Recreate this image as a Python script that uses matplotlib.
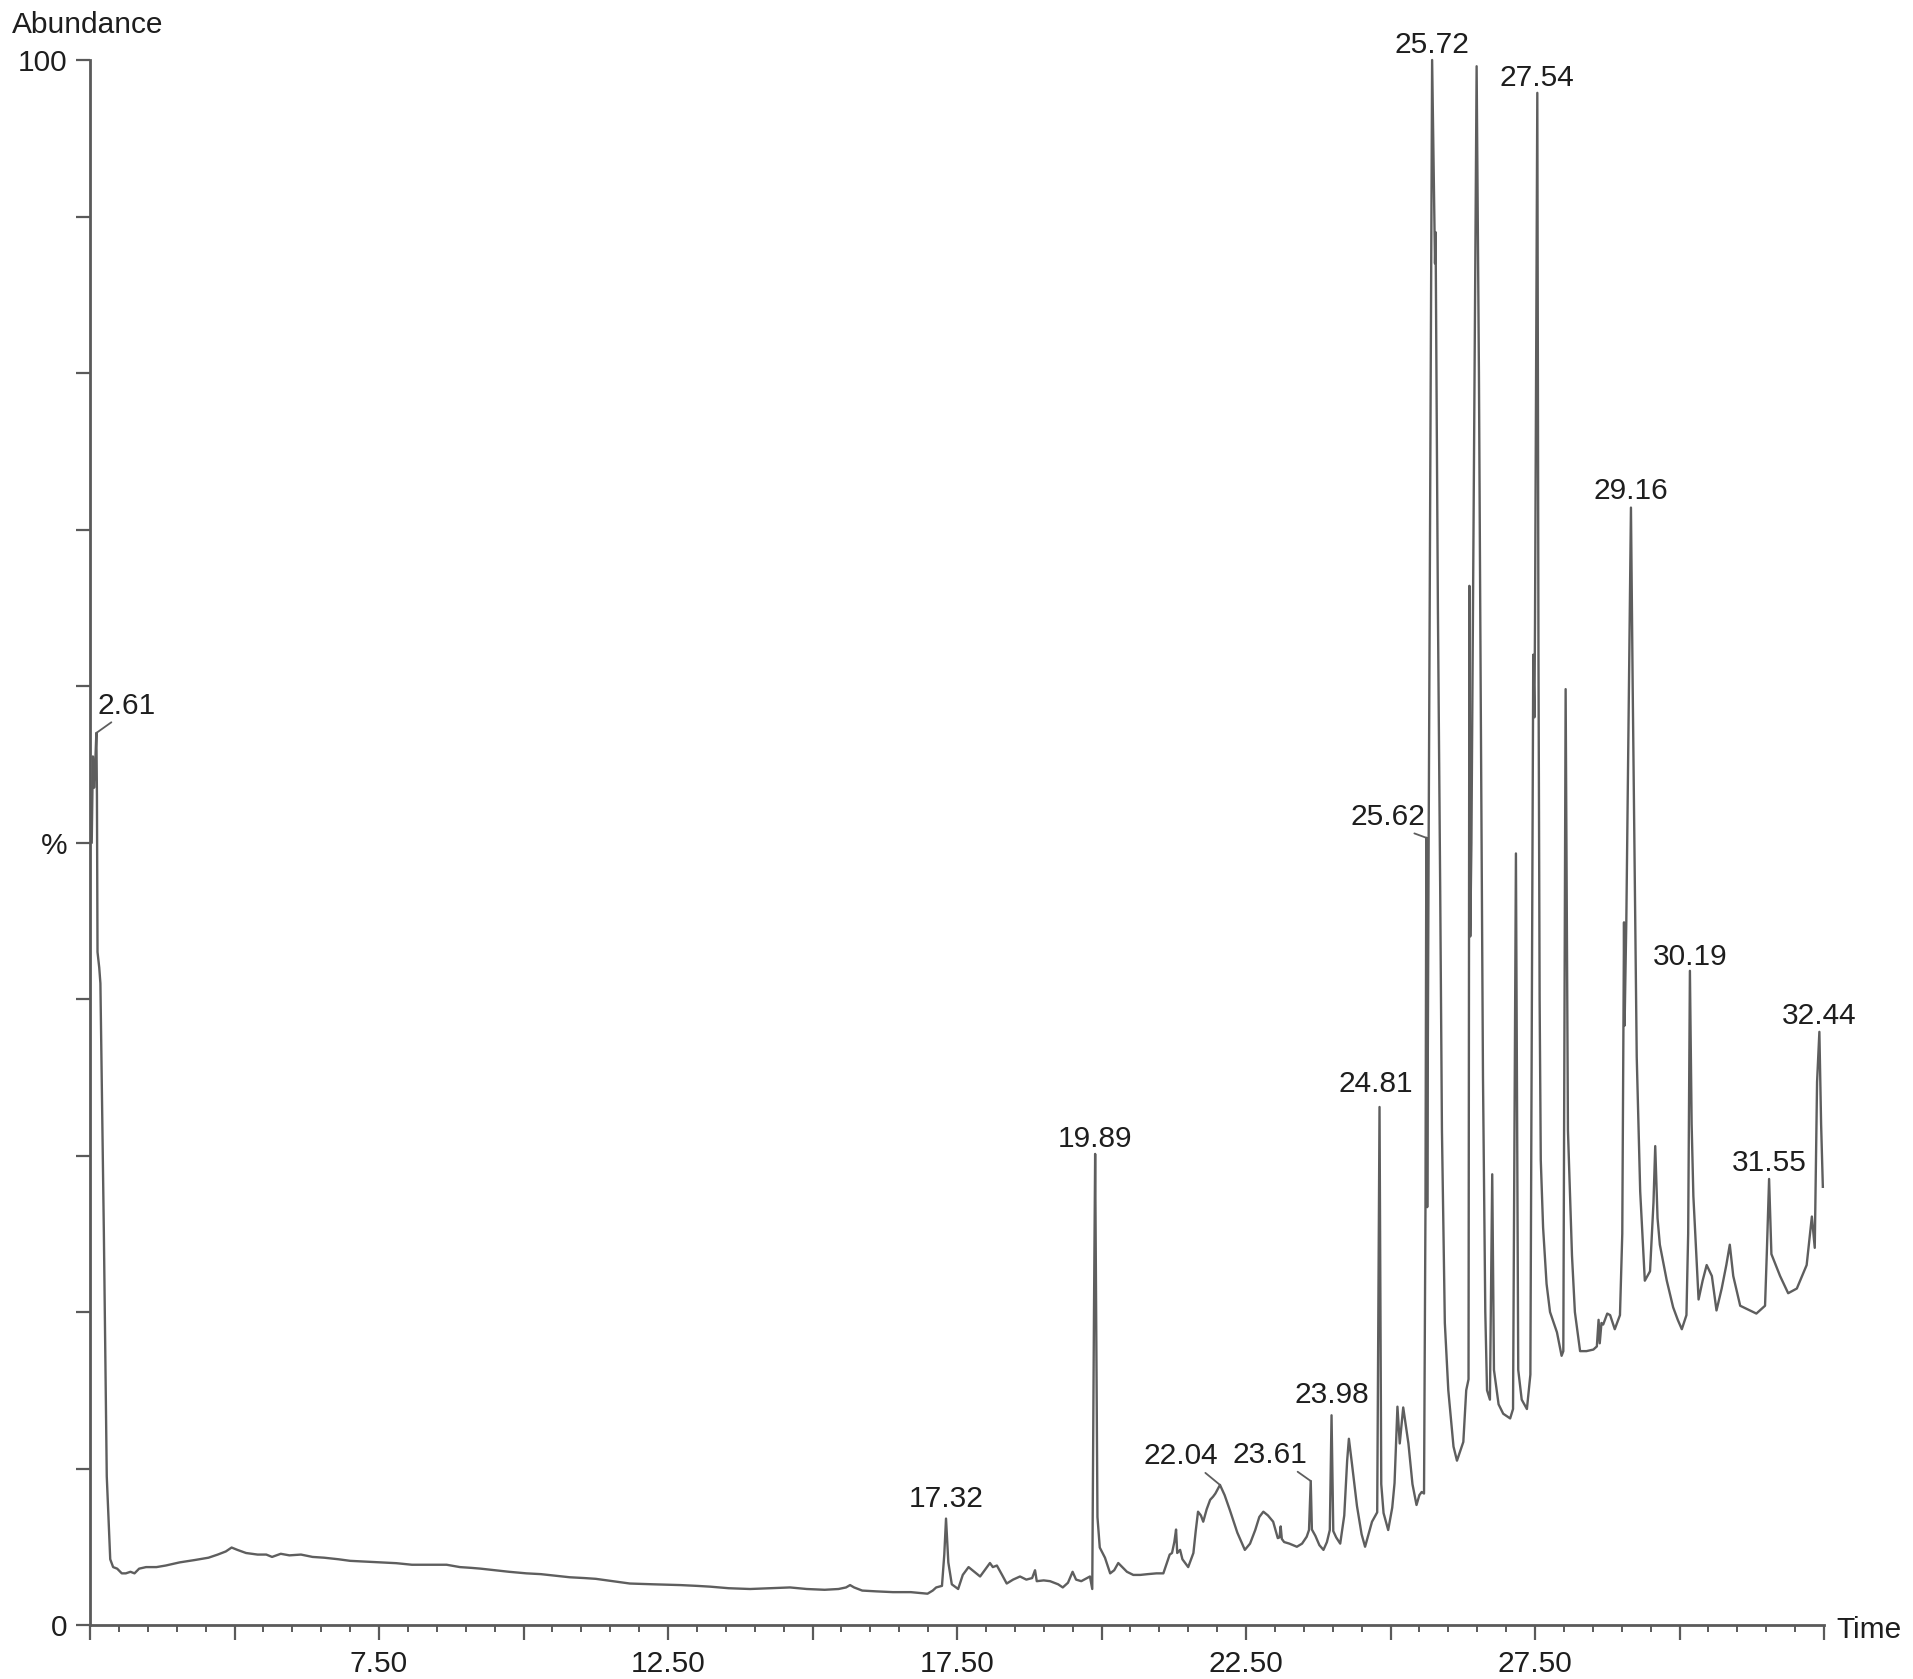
import matplotlib
matplotlib.use('Agg')
import matplotlib.pyplot as plt
import numpy as np

# ===== CONFIGURATION PARAMETERS =====
TRACE_COLOR = '#5e5e5e'
AXIS_COLOR = '#5a5a5a'
TEXT_COLOR = '#1e1e1e'
FONT_SIZE = 21.5
plt.rcParams['font.family'] = ['Liberation Sans', 'DejaVu Sans']
# ====================================

# retention time (min) and relative abundance (%)
TIME = [
    2.53, 2.55, 2.57, 2.59, 2.61, 2.62, 2.63, 2.66, 2.68, 2.74, 2.79, 2.85, 2.90, 2.97,
    3.05, 3.12, 3.20, 3.27, 3.35, 3.47, 3.65, 3.81, 4.05, 4.31, 4.55, 4.71, 4.85, 4.95,
    5.05, 5.20, 5.40, 5.55, 5.65, 5.80, 5.95, 6.15, 6.35, 6.55, 6.80, 7.00, 7.27, 7.55,
    7.80, 8.07, 8.40, 8.67, 8.90, 9.10, 9.26, 9.50, 9.75, 10.05, 10.30, 10.55, 10.80,
    11.05, 11.25, 11.55, 11.84, 12.25, 12.72, 13.00, 13.23, 13.55, 13.92, 14.25, 14.61,
    14.90, 15.21, 15.45, 15.58, 15.65, 15.72, 15.86, 16.10, 16.39, 16.70, 16.99, 17.08,
    17.14, 17.24, 17.28, 17.31, 17.35, 17.41, 17.52, 17.60, 17.70, 17.80, 17.90, 17.98,
    18.07, 18.12, 18.19, 18.28, 18.36, 18.47, 18.59, 18.70, 18.80, 18.85, 18.88, 19.00,
    19.11, 19.25, 19.33, 19.42, 19.50, 19.56, 19.65, 19.75, 19.80, 19.84, 19.87, 19.89,
    19.91, 19.93, 19.97, 20.06, 20.15, 20.22, 20.29, 20.36, 20.44, 20.55, 20.67, 20.80,
    20.95, 21.07, 21.13, 21.18, 21.22, 21.26, 21.29, 21.31, 21.36, 21.40, 21.50, 21.59,
    21.63, 21.67, 21.72, 21.76, 21.82, 21.88, 21.93, 21.97, 22.05, 22.13, 22.22, 22.35,
    22.48, 22.57, 22.66, 22.73, 22.80, 22.88, 22.97, 23.05, 23.08, 23.10, 23.12, 23.16,
    23.25, 23.38, 23.47, 23.55, 23.59, 23.62, 23.64, 23.70, 23.77, 23.84, 23.90, 23.95,
    23.98, 24.01, 24.06, 24.13, 24.20, 24.25, 24.28, 24.33, 24.42, 24.50, 24.56, 24.62,
    24.68, 24.77, 24.81, 24.84, 24.88, 24.96, 25.03, 25.07, 25.12, 25.16, 25.22, 25.31,
    25.38, 25.45, 25.50, 25.54, 25.58, 25.605, 25.62, 25.635, 25.66, 25.72, 25.75, 25.76,
    25.77, 25.78, 25.82, 25.86, 25.89, 25.94, 26.00, 26.09, 26.15, 26.26, 26.31, 26.35,
    26.365, 26.38, 26.40, 26.49, 26.53, 26.56, 26.60, 26.64, 26.67, 26.72, 26.76, 26.79,
    26.87, 26.95, 27.07, 27.12, 27.17, 27.21, 27.27, 27.36, 27.42, 27.47, 27.49, 27.50,
    27.54, 27.56, 27.58, 27.60, 27.64, 27.70, 27.76, 27.88, 27.96, 27.99, 28.03, 28.07,
    28.14, 28.19, 28.28, 28.39, 28.51, 28.57, 28.60, 28.62, 28.65, 28.68, 28.75, 28.80,
    28.88, 28.97, 29.01, 29.04, 29.05, 29.08, 29.16, 29.19, 29.26, 29.32, 29.40, 29.49,
    29.55, 29.58, 29.62, 29.66, 29.78, 29.89, 29.97, 30.04, 30.12, 30.15, 30.18, 30.21,
    30.24, 30.33, 30.40, 30.47, 30.56, 30.64, 30.73, 30.81, 30.87, 30.93, 31.05, 31.22,
    31.33, 31.48, 31.51, 31.55, 31.59, 31.74, 31.88, 32.03, 32.20, 32.29, 32.34, 32.38,
    32.42, 32.45, 32.48,
]
ABUNDANCE = [
    50.0, 55.5, 53.5, 55.0, 57.0, 53.0, 43.0, 42.0, 41.0, 25.0, 9.5, 4.2, 3.7, 3.6,
    3.3, 3.3, 3.4, 3.3, 3.6, 3.7, 3.7, 3.8, 4.0, 4.15, 4.3, 4.5, 4.7, 4.95,
    4.8, 4.6, 4.5, 4.5, 4.35, 4.55, 4.45, 4.5, 4.35, 4.3, 4.2, 4.1, 4.05, 4.0,
    3.95, 3.85, 3.85, 3.85, 3.7, 3.65, 3.6, 3.5, 3.4, 3.3, 3.25, 3.15, 3.05,
    3.0, 2.95, 2.8, 2.65, 2.6, 2.55, 2.5, 2.45, 2.35, 2.3, 2.35, 2.4,
    2.3, 2.25, 2.3, 2.4, 2.55, 2.4, 2.2, 2.15, 2.1, 2.1, 2.0, 2.2,
    2.4, 2.5, 4.5, 6.8, 4.0, 2.6, 2.3, 3.2, 3.7, 3.4, 3.1, 3.5,
    3.96, 3.7, 3.8, 3.2, 2.65, 2.9, 3.1, 2.9, 3.0, 3.5, 2.8, 2.85,
    2.8, 2.6, 2.4, 2.7, 3.4, 2.9, 2.8, 3.0, 3.1, 2.3, 20.0, 30.1,
    18.0, 6.9, 4.95, 4.3, 3.3, 3.5, 3.96, 3.7, 3.4, 3.2, 3.2, 3.25,
    3.3, 3.3, 3.96, 4.5, 4.6, 5.3, 6.1, 4.6, 4.8, 4.2, 3.7, 4.6,
    6.0, 7.24, 7.0, 6.6, 7.4, 8.0, 8.2, 8.4, 8.95, 8.3, 7.35, 5.9,
    4.8, 5.2, 6.07, 6.9, 7.24, 7.0, 6.6, 5.55, 5.6, 6.3, 5.5, 5.3,
    5.2, 5.0, 5.2, 5.64, 6.07, 9.2, 6.1, 5.7, 5.1, 4.8, 5.3, 6.07,
    13.4, 6.0, 5.6, 5.2, 7.0, 10.5, 11.9, 10.4, 7.6, 5.8, 5.0, 5.8,
    6.6, 7.2, 33.1, 9.0, 7.15, 6.07, 7.5, 9.07, 13.95, 11.6, 13.9, 11.6,
    9.0, 7.67, 8.3, 8.5, 8.4, 26.7, 50.3, 26.7, 50.0, 100.0, 92.0, 89.5,
    87.0, 89.0, 65.0, 46.9, 31.6, 19.3, 15.0, 11.4, 10.5, 11.7, 15.0, 15.7,
    66.4, 44.0, 50.0, 99.6, 80.0, 60.0, 35.0, 20.0, 15.0, 14.4, 28.8, 16.3,
    14.1, 13.5, 13.2, 13.8, 49.3, 16.3, 14.4, 13.8, 16.0, 62.0, 58.0, 64.0,
    97.9, 62.0, 40.0, 29.7, 25.4, 21.8, 20.0, 18.7, 17.2, 17.5, 59.8, 31.6,
    23.6, 20.0, 17.5, 17.5, 17.6, 17.8, 19.5, 18.0, 19.3, 19.2, 19.9, 19.8,
    18.9, 19.8, 25.0, 44.9, 38.3, 45.0, 71.4, 60.0, 36.3, 27.7, 22.0, 22.6,
    27.0, 30.6, 26.0, 24.3, 22.0, 20.3, 19.5, 18.9, 19.8, 25.0, 41.8, 32.0,
    27.4, 20.8, 22.0, 23.0, 22.3, 20.1, 21.5, 23.0, 24.3, 22.3, 20.4, 20.1,
    19.9, 20.4, 23.7, 28.5, 23.7, 22.3, 21.2, 21.5, 23.0, 26.1, 24.1, 34.7,
    37.9, 32.0, 28.0,
]

# labelled peaks
PEAK_LABELS = ['2.61', '17.32', '19.89', '22.04', '23.61', '23.98', '24.81', '25.62',
               '25.72', '27.54', '29.16', '30.19', '31.55', '32.44']

# x tick layout
XTICK_LABELED = [7.5, 12.5, 17.5, 22.5, 27.5]

# label placement (offset of text baseline centre from peak tip, in points)
# and the anchor point of the leader line on the text box (None = no leader)
LABEL_STYLE = {
    '2.61': ((22, 14), (0.3, 0.0)),
    '17.32': ((0, 8.5), None),
    '19.89': ((0, 5), None),
    '22.04': ((-28, 15), (0.78, 0.0)),
    '23.61': ((-29.5, 13), (0.82, 0.0)),
    '23.98': ((0, 8.5), None),
    '24.81': ((-2.5, 10.5), None),
    '25.62': ((-27.5, 9.5), (0.75, 0.0)),
    '25.72': ((0, 5), None),
    '27.54': ((0, 5), None),
    '29.16': ((0, 6), None),
    '30.19': ((0, 4), None),
    '31.55': ((0, 6), None),
    '32.44': ((0, 6), None),
}

time = np.array(TIME)
abundance = np.array(ABUNDANCE)

W, H = 1913, 1679
fig = plt.figure(figsize=(W / 100, H / 100), dpi=100, facecolor='white')
ax = fig.add_axes([90 / W, 54 / H, (1824 - 90) / W, (1625 - 60) / H])

ax.plot(time, abundance, color=TRACE_COLOR, lw=1.7, clip_on=False)

ax.set_xlim(2.5, 32.5)
ax.set_ylim(0, 100)

for side in ['top', 'right']:
    ax.spines[side].set_visible(False)
for side in ['left', 'bottom']:
    ax.spines[side].set_color(AXIS_COLOR)
    ax.spines[side].set_linewidth(2.0)

# x axis: ticks every 2.5 min, minor every 0.5 min, labels on 7.50, 12.50, ...
xmajor = np.arange(2.5, 32.51, 2.5)
ax.set_xticks(xmajor)
ax.set_xticklabels([f'{v:.2f}' if v in XTICK_LABELED else '' for v in xmajor])
ax.set_xticks(np.arange(2.5, 32.51, 0.5), minor=True)
ax.tick_params(axis='x', which='major', length=11, width=1.6, pad=7,
               labelsize=FONT_SIZE, colors=AXIS_COLOR, labelcolor=TEXT_COLOR)
ax.tick_params(axis='x', which='minor', length=5, width=1.4, colors=AXIS_COLOR)

# y axis: ticks every 10 %, only 0, % and 100 labelled
yticks = np.arange(0, 101, 10)
ax.set_yticks(yticks)
ax.set_yticklabels(['0' if v == 0 else '%' if v == 50 else '100' if v == 100 else ''
                    for v in yticks])
ax.tick_params(axis='y', which='major', length=10, width=1.6, pad=6,
               labelsize=FONT_SIZE, colors=AXIS_COLOR, labelcolor=TEXT_COLOR)

# peak labels
for label in PEAK_LABELS:
    t0 = float(label)
    near = np.where(np.abs(time - t0) <= 0.021)[0]
    i = near[np.argmax(abundance[near])]
    offset, relpos = LABEL_STYLE[label]
    arrow = None
    if relpos is not None:
        arrow = dict(arrowstyle='-', color=TRACE_COLOR, lw=1.3,
                     shrinkA=0, shrinkB=0, relpos=relpos)
    ax.annotate(label, xy=(time[i], abundance[i]), xytext=offset,
                textcoords='offset points', ha='center', va='baseline',
                fontsize=FONT_SIZE, color=TEXT_COLOR, arrowprops=arrow,
                annotation_clip=False)

fig.text(12 / W, 1 - 33 / H, 'Abundance', fontsize=FONT_SIZE, color=TEXT_COLOR,
         ha='left', va='baseline')
fig.text(1836 / W, 1 - 1638 / H, 'Time', fontsize=FONT_SIZE, color=TEXT_COLOR,
         ha='left', va='baseline')

fig.savefig('out.png', dpi=100, facecolor='white')
